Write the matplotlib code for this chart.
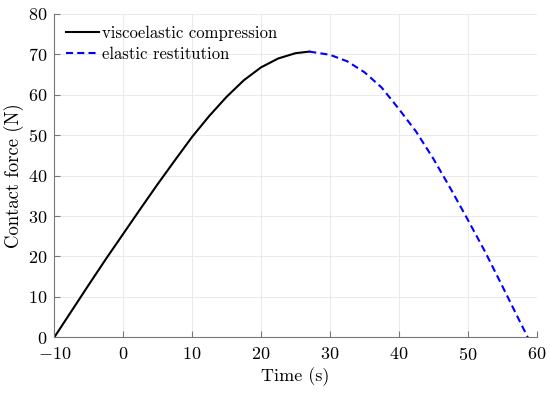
import matplotlib
matplotlib.use("Agg")
from matplotlib import pyplot as plt

# viscoelastic compression phase
t_comp = [-10, -7.5, -5, -2.5, 0, 2.5, 5, 7.5, 10, 12.5, 15, 17.5, 20, 22.5, 25, 27]
f_comp = [0, 6.5, 13.0, 19.4, 25.6, 31.8, 37.9, 43.8, 49.6, 54.8, 59.5, 63.6, 66.8, 69.0, 70.3, 70.7]

# elastic restitution phase
t_rest = [27, 30, 32.5, 35, 37.5, 40, 42.5, 45, 47.5, 50, 52.5, 55, 57.5, 58.7]
f_rest = [70.7, 69.9, 68.3, 65.6, 61.8, 56.5, 50.9, 44.2, 36.8, 29.1, 21.2, 12.7, 4.1, 0]

x_ticks = [-10, 0, 10, 20, 30, 40, 50, 60]
y_ticks = [0, 10, 20, 30, 40, 50, 60, 70, 80]

plt.rcParams['font.family'] = 'serif'
plt.rcParams['font.serif'] = ['cmr10']
plt.rcParams['mathtext.fontset'] = 'cm'
plt.rcParams['axes.formatter.use_mathtext'] = True

fig = plt.figure(figsize=(5.5, 3.93), dpi=100)
ax = fig.add_axes([54.3 / 550, 1 - 337.3 / 393, 482.4 / 550, 323.3 / 393])

ax.plot(t_comp, f_comp, color='black', lw=1.5, label='viscoelastic compression',
        solid_joinstyle='round')
ax.plot(t_rest, f_rest, color='#0000ff', lw=1.5, ls=(0, (3.4, 2.0)),
        label='elastic restitution')

ax.set_xlim(-10, 60)
ax.set_ylim(0, 80)
ax.set_xticks(x_ticks)
ax.set_yticks(y_ticks)
ax.grid(True, color='#e6e6e6', lw=0.6)
ax.set_axisbelow(True)

for s in ['top', 'right']:
    ax.spines[s].set_visible(False)
for s in ['left', 'bottom']:
    ax.spines[s].set_color('#777777')
    ax.spines[s].set_linewidth(0.8)
ax.tick_params(direction='in', length=4, width=0.8, color='#777777',
               labelsize=13, labelcolor='black')
ax.tick_params(axis='x', pad=6)
ax.tick_params(axis='y', pad=5)

ax.set_xlabel('Time (s)', fontsize=13, labelpad=3)
ax.set_ylabel('Contact force (N)', fontsize=13.5, labelpad=3)

ax.legend(loc='upper left', frameon=False, fontsize=12, handlelength=2.0,
          handletextpad=0.15, borderaxespad=0.3, borderpad=0.4,
          labelspacing=0.35)

fig.savefig('out.png', dpi=100)
